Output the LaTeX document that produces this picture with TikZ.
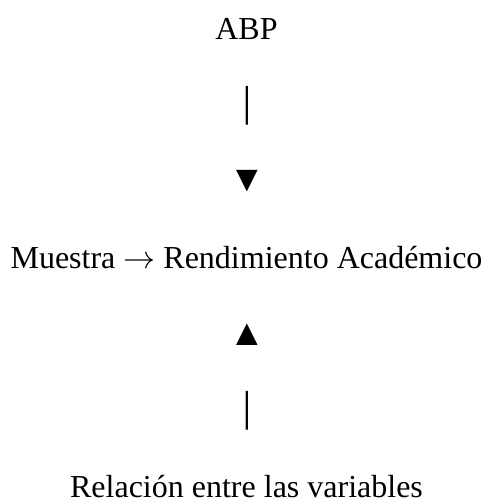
\RequirePackage{fix-cm}
\documentclass[tikz,border=0pt]{standalone}
\usepackage{fontspec}
\setmainfont{Liberation Serif}
\begin{document}
\begin{tikzpicture}[x=1pt,y=-1pt,
  lbl/.style={anchor=base,inner sep=0pt,font=\fontsize{32}{38}\selectfont},
  tri/.style={anchor=base,inner sep=0pt,font=\fontsize{37}{40}\selectfont}]
\useasboundingbox (0,0) rectangle (483,499);
\node[lbl] (abp) at (246.5,39) {ABP};
\node[lbl] (bar1) at (247,115.3) {│};
\node[tri] (down) at (247,191.6) {▼};
\node[lbl] (mid) at (246.5,268) {Muestra $\rightarrow$ Rendimiento Académico};
\node[tri] (up) at (247,345.5) {▲};
\node[lbl] (bar2) at (247,420.6) {│};
\node[lbl] (rel) at (246.5,497) {Relación entre las variables};
\end{tikzpicture}
\end{document}
